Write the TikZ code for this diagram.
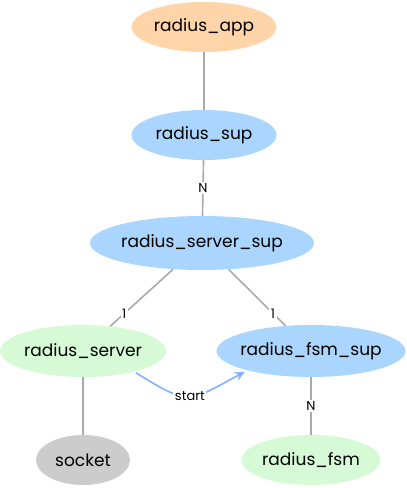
\documentclass[tikz,border=0pt]{standalone}
\usepackage{fontspec}
\setmainfont{Poppins}
\usetikzlibrary{shapes.geometric, arrows.meta}
\definecolor{peach}{HTML}{FFD4A8}
\definecolor{supblue}{HTML}{A9D5FF}
\definecolor{workgreen}{HTML}{D6FAD6}
\definecolor{portgray}{HTML}{CCCCCC}
\definecolor{linkgray}{HTML}{AAAAAA}
\definecolor{startblue}{HTML}{80B2FF}

\begin{document}
\begin{tikzpicture}[
    x=1pt, y=-1pt,
    % Node styles
    base node/.style={
        ellipse,
        inner xsep=-10pt,
        inner ysep=0pt,
        minimum height=50pt,
        font=\fontsize{17}{20}\selectfont
    },
    app node/.style={base node, fill=peach},
    sup node/.style={base node, fill=supblue},
    worker node/.style={base node, fill=workgreen},
    port node/.style={base node, fill=portgray},
    link/.style={
        draw=linkgray,
        line width=1.6pt
    },
    start link/.style={
        draw=startblue,
        line width=1.6pt,
        shorten <=2pt, shorten >=3pt,
        -{Stealth[length=10pt, width=9pt]}
    },
    edge label/.style={
        fill=white,
        inner sep=1.5pt,
        font=\fontsize{13}{15}\selectfont
    }
]

\useasboundingbox (0,0) rectangle (407,488);

% Supervision tree
\node[app node, minimum width=145pt] (app) at (204,27) {radius\_app};
\node[sup node, minimum width=145pt] (sup) at (204,135) {radius\_sup};
\node[sup node, minimum width=224pt, minimum height=54pt] (srvsup) at (202,243) {radius\_server\_sup};
\node[worker node, minimum width=166pt, minimum height=52pt] (srv) at (83,351) {radius\_server};
\node[sup node, minimum width=189pt, minimum height=52pt] (fsmsup) at (311,351) {radius\_fsm\_sup};
\node[port node, minimum width=94pt] (sock) at (83,460) {socket};
\node[worker node, minimum width=139pt] (fsm) at (311,460) {radius\_fsm};

% Links
\draw[link] (app) -- (sup);
\draw[link] (sup) -- node[edge label] {N} (srvsup);
\draw[link] (srvsup) -- node[edge label, pos=0.78] {1} (srv);
\draw[link] (srvsup) -- node[edge label, pos=0.78] {1} (fsmsup);
\draw[link] (fsmsup) -- node[edge label] {N} (fsm);
\draw[link] (srv) -- (sock);

% Start arrow
\draw[start link] (srv.-22) to[out=-32, in=208, looseness=1.5] node[edge label, pos=0.5] {start} (fsmsup.-163);

\end{tikzpicture}
\end{document}
